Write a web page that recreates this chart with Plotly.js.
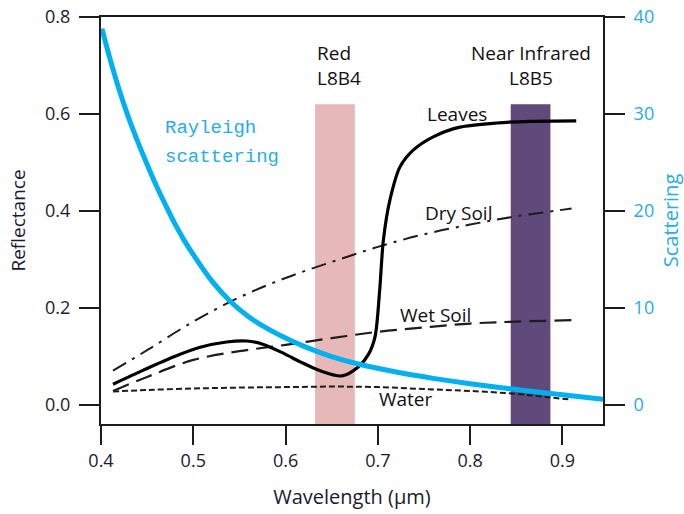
<!DOCTYPE html>
<html>
<head>
<meta charset="utf-8">
<script src="https://cdn.plot.ly/plotly-3.0.1.min.js"></script>
<style>html,body{margin:0;padding:0;background:#fff;}#chart{width:684px;height:514px;}</style>
</head>
<body>
<div id="chart"></div>
<script>
// Rayleigh scattering curve (right axis)
const rayleighX = [0.401, 0.41, 0.42, 0.43, 0.44, 0.45, 0.46, 0.47, 0.48, 0.49, 0.50, 0.52, 0.54, 0.56, 0.58, 0.60, 0.62, 0.65, 0.68, 0.72, 0.76, 0.80, 0.85, 0.90, 0.944];
const rayleighY = [38.8, 35.6, 32.4, 29.6, 27.1, 24.8, 22.6, 20.6, 18.7, 17.0, 15.5, 12.8, 10.7, 9.1, 7.9, 6.9, 6.05, 5.0, 4.2, 3.4, 2.75, 2.2, 1.6, 1.05, 0.6];

// Leaves reflectance
const leavesX = [0.413, 0.446, 0.479, 0.5075, 0.536, 0.558, 0.576, 0.598, 0.616, 0.637, 0.661, 0.679, 0.690, 0.697, 0.702, 0.706, 0.713, 0.724, 0.738, 0.760, 0.789, 0.829, 0.865, 0.915];
const leavesY = [0.043, 0.072, 0.0995, 0.119, 0.130, 0.132, 0.125, 0.1065, 0.089, 0.071, 0.060, 0.079, 0.105, 0.141, 0.237, 0.340, 0.422, 0.491, 0.525, 0.553, 0.573, 0.5815, 0.585, 0.586];

// Dry soil reflectance
const drySoilX = [0.413, 0.45, 0.50, 0.55, 0.60, 0.65, 0.70, 0.75, 0.80, 0.85, 0.91];
const drySoilY = [0.071, 0.113, 0.172, 0.222, 0.262, 0.295, 0.326, 0.352, 0.372, 0.389, 0.405];

// Wet soil reflectance
const wetSoilX = [0.413, 0.45, 0.50, 0.55, 0.60, 0.65, 0.70, 0.75, 0.80, 0.85, 0.913];
const wetSoilY = [0.029, 0.058, 0.093, 0.111, 0.124, 0.138, 0.151, 0.160, 0.168, 0.172, 0.175];

// Water reflectance
const waterX = [0.413, 0.45, 0.50, 0.55, 0.60, 0.65, 0.70, 0.75, 0.80, 0.85, 0.88, 0.91];
const waterY = [0.028, 0.031, 0.034, 0.036, 0.037, 0.038, 0.037, 0.033, 0.029, 0.023, 0.017, 0.011];

// Landsat 8 bands
const bandNames = ["Red<br>L8B4", "Near Infrared<br>L8B5"];
const bandStart = [0.632, 0.844];
const bandEnd = [0.675, 0.887];
const bandTop = [0.62, 0.62];
const bandColors = ["#e6b8b7", "#604a7b"];

// axes
const xTicks = [0.4, 0.5, 0.6, 0.7, 0.8, 0.9];
const xTickText = ["0.4", "0.5", "0.6", "0.7", "0.8", "0.9"];
const yTicks = [0, 0.2, 0.4, 0.6, 0.8];
const yTickText = ["0.0", "0.2", "0.4", "0.6", "0.8"];
const y2Ticks = [0, 10, 20, 30, 40];
const y2TickText = ["0", "10", "20", "30", "40"];

const yMin = -0.0391, yMax = 0.8;
const blue = "#00b0f0";
const blueText = "#27acec";
const ink = "#1c1c1c";
const font = "Open Sans, sans-serif";

const traces = [
  {x: waterX, y: waterY, mode: "lines", line: {color: ink, width: 2, dash: "6px,3px", shape: "spline"}, hoverinfo: "skip"},
  {x: wetSoilX, y: wetSoilY, mode: "lines", line: {color: ink, width: 2.2, dash: "17px,8px", shape: "spline"}, hoverinfo: "skip"},
  {x: drySoilX, y: drySoilY, mode: "lines", line: {color: ink, width: 2, dash: "15px,7px,3px,7px", shape: "spline"}, hoverinfo: "skip"},
  {x: leavesX, y: leavesY, mode: "lines", line: {color: "#000", width: 3.2, shape: "spline", smoothing: 0.8}, hoverinfo: "skip"},
  {x: rayleighX, y: rayleighY, yaxis: "y2", mode: "lines", line: {color: blue, width: 5, shape: "spline", smoothing: 0.6}, hoverinfo: "skip"}
];

const shapes = bandStart.map((s, i) => ({
  type: "rect", xref: "x", yref: "y", layer: "below",
  x0: s, x1: bandEnd[i], y0: yMin, y1: bandTop[i],
  fillcolor: bandColors[i], line: {width: 0}
}));

const annFont = {family: font, size: 19, color: "#111"};
const annotations = [
  {x: bandStart[0], y: 0.699, text: bandNames[0], xanchor: "left", yanchor: "middle", showarrow: false, font: annFont, align: "left"},
  {x: (bandStart[1] + bandEnd[1]) / 2, y: 0.699, text: bandNames[1], xanchor: "center", yanchor: "middle", showarrow: false, font: annFont, align: "center"},
  {x: 0.786, y: 0.601, text: "Leaves", showarrow: false, font: annFont},
  {x: 0.787, y: 0.395, text: "Dry Soil", showarrow: false, font: annFont},
  {x: 0.7627, y: 0.1854, text: "Wet Soil", showarrow: false, font: annFont},
  {x: 0.7304, y: 0.0117, text: "Water", showarrow: false, font: annFont},
  {x: 0.4674, y: 0.5706, text: "Rayleigh", xanchor: "left", showarrow: false, font: {family: "Liberation Mono, monospace", size: 19, color: blueText}},
  {x: 0.4674, y: 0.5109, text: "scattering", xanchor: "left", showarrow: false, font: {family: "Liberation Mono, monospace", size: 19, color: blueText}}
];

const axisCommon = {
  ticks: "outside", tickwidth: 2, tickcolor: ink,
  showline: true, linewidth: 2, linecolor: ink,
  showgrid: false, zeroline: false
};

const layout = {
  width: 684, height: 514,
  margin: {l: 101, r: 81, t: 17, b: 90, pad: 0},
  paper_bgcolor: "#fff", plot_bgcolor: "#fff",
  showlegend: false,
  xaxis: Object.assign({}, axisCommon, {
    range: [0.4, 0.944], tickmode: "array", tickvals: xTicks, ticktext: xTickText,
    ticklen: 19, mirror: true,
    tickfont: {family: font, size: 18, color: "#1a1a30"},
    title: {text: "Wavelength (μm)", font: {family: font, size: 20, color: "#1a1a30"}, standoff: 19}
  }),
  yaxis: Object.assign({}, axisCommon, {
    range: [yMin, yMax], tickmode: "array", tickvals: yTicks, ticktext: yTickText,
    ticklen: 20, ticklabelstandoff: 5,
    tickfont: {family: font, size: 18, color: "#1a1a30"},
    title: {text: "Reflectance", font: {family: font, size: 19, color: "#1a1a30"}, standoff: 14}
  }),
  yaxis2: Object.assign({}, axisCommon, {
    overlaying: "y", side: "right",
    range: [yMin * 50, yMax * 50], tickmode: "array", tickvals: y2Ticks, ticktext: y2TickText,
    ticklen: 20, ticklabelstandoff: 5,
    tickfont: {family: font, size: 18, color: blueText},
    title: {text: "Scattering", font: {family: font, size: 20, color: blueText}, standoff: 12}
  }),
  shapes: shapes,
  annotations: annotations
};

Plotly.newPlot("chart", traces, layout, {staticPlot: true, displayModeBar: false});
</script>
</body>
</html>
